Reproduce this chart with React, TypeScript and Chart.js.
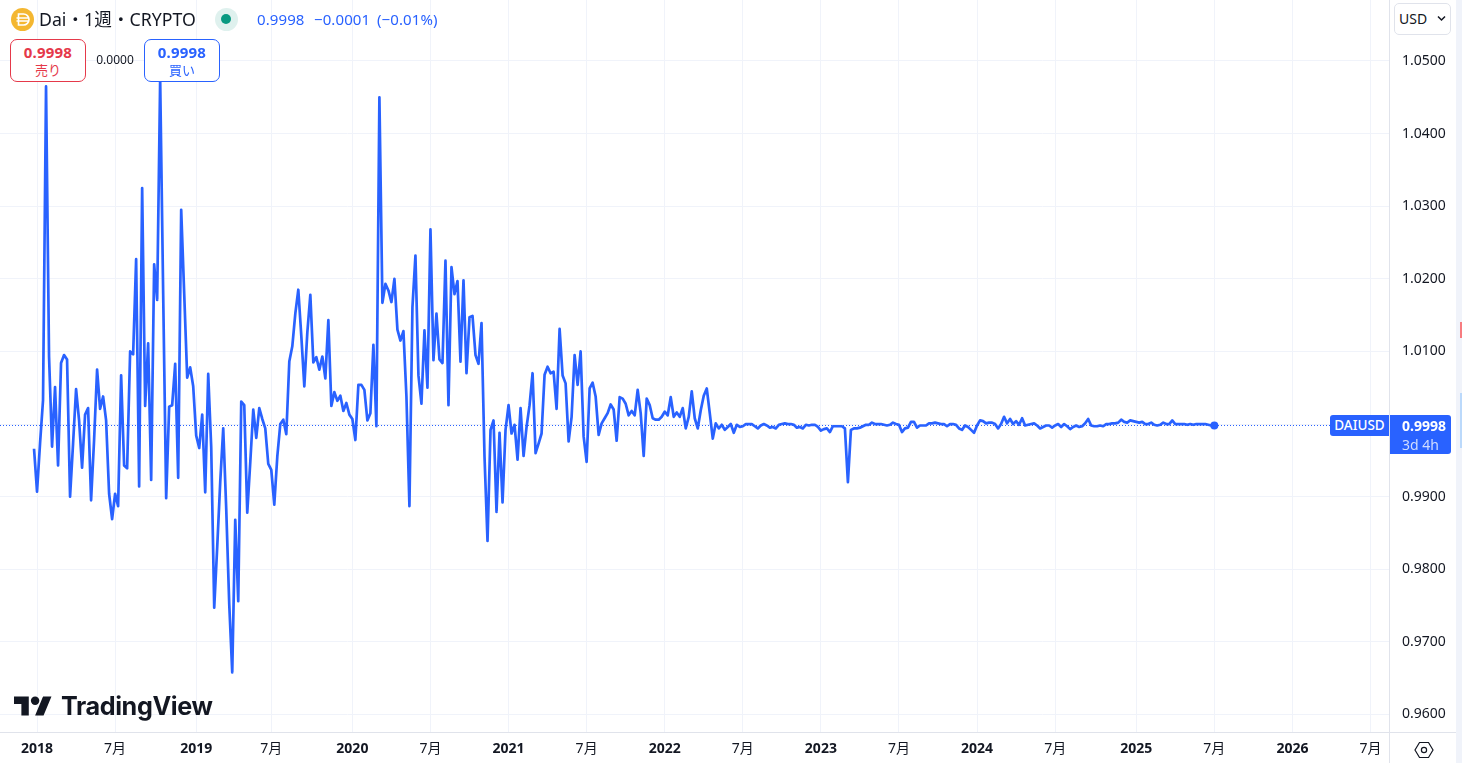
import React, { useEffect, useRef } from "react";
import { Chart, registerables } from "chart.js";

Chart.register(...registerables);

const BLUE = "#2962ff";
const GRID = "#f0f3fa";
const EDGE = "#e0e3eb";
const INK = "#131722";
const FONT = '"Noto Sans", Roboto, sans-serif';

const pricesA = [
  0.9966, 0.9907, 0.9973, 1.0033, 1.0465, 1.0093, 0.9969, 1.0051, 0.9943, 1.0084,
  1.0095, 1.0089, 0.99, 0.9973, 1.0048, 1.0005, 0.994, 1.0013, 1.0022, 0.9895,
  0.9978, 1.0075, 1.0021, 1.0038, 1.0005, 0.9904, 0.9869, 0.9904, 0.9887, 1.0067,
  0.9943, 0.9939, 1.01, 1.0096, 1.0227, 0.9914, 1.0325, 1.0025, 1.0111, 0.9923,
  1.022, 1.0171, 1.0475, 1.018, 0.9898, 1.0024, 1.0026, 1.0083, 0.9926, 1.0295,
  1.018, 1.0064, 1.0078, 1.0052, 0.9984, 0.9967, 1.0013, 0.9906, 1.0069, 0.9968,
];
const pricesB = [
  0.9747, 0.9831, 0.992, 0.9994, 0.9883, 0.9752, 0.9658, 0.9868, 0.9756, 1.0031,
  1.0026, 0.9878, 0.9947, 1.002, 0.9981, 1.0022, 1.0007, 0.9994, 0.9945, 0.9937,
  0.9889, 0.9955, 1.0, 1.0006, 0.9986, 1.0086, 1.0107, 1.0152, 1.0185, 1.0121,
  1.0052, 1.0126, 1.0178, 1.0085, 1.0092, 1.0075, 1.0093, 1.0063, 1.0143, 1.0025,
  1.0044, 1.0032, 1.0039, 1.0018, 1.0029, 1.0013, 1.0007, 0.9978, 1.0054, 1.0054,
  1.0047, 1.0005, 1.0015, 1.0109, 0.9997, 1.045, 1.0167, 1.0193, 1.0184, 1.0168,
];
const pricesC = [
  1.02, 1.013, 1.0115, 1.0128, 1.0038, 0.9887, 1.0161, 1.0232, 1.0067, 1.0028,
  1.0129, 1.005, 1.0268, 1.0088, 1.0152, 1.0089, 1.0084, 1.0225, 1.0026, 1.0216,
  1.0179, 1.0197, 1.0086, 1.0198, 1.007, 1.0147, 1.0149, 1.0095, 1.0083, 1.0139,
  0.9955, 0.9839, 0.9992, 1.0005, 0.9879, 0.9988, 0.9892, 0.9992, 1.0026, 0.9987,
  0.9999, 0.9951, 1.0022, 0.9956, 0.9996, 1.0026, 1.007, 0.996, 0.9973, 0.9987,
  1.0068, 1.0079, 1.007, 1.0072, 1.0021, 1.0131, 1.0067, 1.0056, 0.9976, 1.001,
];
const pricesD = [
  1.0095, 1.0054, 1.01, 0.9983, 0.9948, 1.0049, 1.0057, 1.0038, 0.9985, 1.0001,
  1.0008, 1.0015, 1.0027, 1.002, 0.9977, 1.0037, 1.0035, 1.0028, 1.0012, 1.0018,
  1.0012, 1.0047, 1.0015, 0.9956, 1.0035, 1.0026, 1.0008, 1.0006, 1.0006, 1.001,
  1.0017, 1.0012, 1.0037, 1.001, 1.0016, 1.001, 1.0022, 0.9994, 1.001, 1.0045,
  1.0008, 0.9994, 1.0019, 1.0039, 1.0049, 1.0015, 0.998, 1.0001, 0.9994, 0.9999,
  0.9992, 0.9996, 1.0, 0.9988, 0.9999, 0.9996, 0.9997, 1.0, 1.0, 1.0,
];
const pricesE = [
  0.9997, 0.9994, 0.9998, 1.0, 0.9998, 0.9995, 0.9996, 0.9994, 0.9999, 1.0,
  1.0001, 1.0, 1.0, 0.9999, 0.9995, 0.9996, 0.9994, 0.9999, 0.9998, 0.9999,
  0.9999, 0.9996, 0.9991, 0.9993, 0.9994, 0.9989, 0.9997, 0.9997, 0.9997, 0.9997,
  0.9994, 0.992, 0.9992, 0.9994, 0.9994, 0.9995, 0.9997, 0.9999, 0.9999, 1.0002,
  1.0, 1.0, 1.0, 0.9999, 0.9998, 0.9999, 1.0002, 1.0, 0.9999, 0.9989,
  0.9994, 0.9995, 1.0003, 1.0003, 0.9995, 0.9998, 0.9998, 0.9998, 1.0001, 1.0001,
  1.0002, 1.0001, 1.0, 1.0, 0.9997, 1.0, 1.0, 0.9999, 0.9994,
];
const pricesF = [
  0.9992, 0.9998, 0.9996, 0.9992, 0.9988, 0.9998, 1.0005, 1.0004, 1.0001, 1.0002,
  1.0002, 1.0, 0.9994, 1.0, 1.001, 1.0001, 1.0007, 1.0, 1.0004, 0.9999,
  1.0008, 0.9998, 0.9999, 1.0, 1.0001, 0.9998, 0.9994, 0.9996, 0.9998, 0.9998,
  0.9995, 0.9998, 1.0, 0.9996, 1.0, 0.9997, 0.9993, 0.9996, 0.9998, 0.9996,
  0.9997, 1.0001, 1.0007, 0.9998, 0.9997, 0.9997, 0.9998, 0.9997, 1.0, 1.0,
  1.0001, 1.0001, 1.0002, 1.0006, 1.0003, 1.0002, 1.0005, 1.0004, 1.0003, 1.0002,
  1.0003, 1.0, 1.0, 1.0002, 0.9999, 0.9998, 0.9999, 1.0002, 1.0, 1.0,
  1.0005, 1.0, 1.0, 1.0, 1.0, 0.9999, 1.0, 0.9999, 1.0, 1.0,
  1.0, 1.0, 0.9999, 0.9998, 0.9998,
];
const weeklyPrices = [...pricesA, ...pricesB, ...pricesC, ...pricesD, ...pricesE, ...pricesF];

const lastPrice = 0.9998;
const priceTicks = [0.96, 0.97, 0.98, 0.99, 1.0, 1.01, 1.02, 1.03, 1.04, 1.05];
const timeTickWeeks = [1, 27, 54, 79, 106, 132, 158, 184, 210, 236, 262, 288, 314, 340, 367, 393, 419, 445];
const timeTickLabels = ["2018", "7月", "2019", "7月", "2020", "7月", "2021", "7月", "2022", "7月", "2023", "7月", "2024", "7月", "2025", "7月", "2026", "7月"];

const Box = ({ s, children }: { s: React.CSSProperties; children?: React.ReactNode }) => (
  <div style={{ position: "absolute", boxSizing: "border-box", ...s }}>{children}</div>
);

const TradeBtn = ({ left, color, price, label }: { left: number; color: string; price: string; label: string }) => (
  <Box s={{ left, top: 39, width: 76, height: 43, border: `1px solid ${color}`, borderRadius: 7, background: "#fff", color, textAlign: "center" }}>
    <div style={{ fontSize: 15, fontWeight: 700, lineHeight: "16px", marginTop: 4, letterSpacing: 0.2 }}>{price}</div>
    <div style={{ fontSize: 13, lineHeight: "16px", marginTop: 2, fontFamily: `"Noto Sans CJK JP", ${FONT}` }}>{label}</div>
  </Box>
);

const zeroPad = (s: any) => {
  s.paddingLeft = 0;
  s.paddingRight = 0;
  s.paddingTop = 0;
  s.paddingBottom = 0;
};

export default function App() {
  const ref = useRef<HTMLCanvasElement>(null);

  useEffect(() => {
    const xMin = -11.33;
    const xMax = 451.5;
    const last = weeklyPrices.length - 1;
    const chart = new Chart(ref.current!, {
      type: "line",
      data: {
        datasets: [
          {
            data: weeklyPrices.map((y, x) => ({ x, y })),
            borderColor: BLUE,
            backgroundColor: BLUE,
            borderWidth: 2.7,
            borderJoinStyle: "round",
            tension: 0,
            pointBorderWidth: 0,
            pointRadius: weeklyPrices.map((_, i) => (i === last ? 4 : 0)),
          },
          {
            data: [
              { x: xMin, y: lastPrice },
              { x: xMax, y: lastPrice },
            ],
            borderColor: BLUE,
            borderWidth: 1,
            borderDash: [1, 2],
            pointRadius: 0,
          },
        ],
      },
      options: {
        animation: false,
        responsive: false,
        devicePixelRatio: 1,
        layout: { padding: 0, autoPadding: false },
        plugins: { legend: { display: false }, tooltip: { enabled: false } },
        scales: {
          x: {
            type: "linear",
            min: xMin,
            max: xMax,
            afterBuildTicks: (s: any) => {
              s.ticks = timeTickWeeks.map((value) => ({ value }));
            },
            afterFit: (s: any) => {
              s.height = 31;
              zeroPad(s);
            },
            grid: { color: GRID, drawTicks: false, lineWidth: 1 },
            border: { display: false },
            ticks: {
              autoSkip: false,
              maxRotation: 0,
              padding: 9,
              color: INK,
              font: (c: any) => {
                const isYear = /^\d{4}/.test(timeTickLabels[c.index] || "");
                return { family: `${FONT}, "Noto Sans CJK JP"`, size: 14, weight: isYear ? "bold" : "normal" };
              },
              callback: (_: any, i: number) => timeTickLabels[i],
            },
          },
          y: {
            type: "linear",
            position: "right",
            min: 0.95759,
            max: 1.0584,
            afterBuildTicks: (s: any) => {
              s.ticks = priceTicks.map((value) => ({ value }));
            },
            afterFit: (s: any) => {
              s.width = 72;
              zeroPad(s);
            },
            grid: { color: GRID, drawTicks: false, lineWidth: 1 },
            border: { display: false },
            ticks: {
              autoSkip: false,
              padding: 12,
              color: INK,
              font: { family: FONT, size: 14 },
              callback: (v: any) => Number(v).toFixed(4),
            },
          },
        },
      },
    } as any);
    return () => chart.destroy();
  }, []);

  return (
    <div style={{ position: "fixed", left: 0, top: 0, width: 1462, height: 763, overflow: "hidden", background: "#fff", fontFamily: FONT, color: INK }}>
      <canvas ref={ref} width={1462} height={763} style={{ position: "absolute", left: 0, top: 0, width: 1462, height: 763 }} />

      {/* axis frame and right rail */}
      <Box s={{ left: 1389, top: 0, width: 1, height: 763, background: EDGE }} />
      <Box s={{ left: 0, top: 732, width: 1456, height: 1, background: EDGE }} />
      <Box s={{ left: 1456, top: 0, width: 6, height: 763, background: "#f0f3fa" }} />
      <Box s={{ left: 1460, top: 322, width: 2, height: 16, background: "#f77c80" }} />
      <Box s={{ left: 1460, top: 393, width: 2, height: 55, background: "#bbd9fb" }} />

      {/* header */}
      <Box s={{ left: 11, top: 8, width: 23, height: 23, borderRadius: "50%", background: "#f4b731" }}>
        <svg width="23" height="23" viewBox="0 0 23 23">
          <path d="M7.5 6h5a5.5 5.5 0 0 1 0 11h-5z M5.5 10h12 M5.5 13h12" fill="none" stroke="#fff" strokeWidth="1.6" />
        </svg>
      </Box>
      <Box s={{ left: 39, top: 7, fontSize: 17.7, lineHeight: "25px", whiteSpace: "nowrap", fontFamily: `${FONT}, "Noto Sans CJK JP"` }}>Dai・1週・CRYPTO</Box>
      <Box s={{ left: 215, top: 8, width: 23, height: 23, borderRadius: "50%", background: "#dff1ee" }} />
      <Box s={{ left: 221, top: 14, width: 10, height: 10, borderRadius: "50%", background: "#089981" }} />
      <Box s={{ left: 257, top: 9, fontSize: 15, lineHeight: "20px", color: BLUE, whiteSpace: "pre", letterSpacing: 0.1 }}>0.9998</Box>
      <Box s={{ left: 314, top: 9, fontSize: 15, lineHeight: "20px", color: BLUE, whiteSpace: "pre", letterSpacing: 0.1 }}>−0.0001</Box>
      <Box s={{ left: 377, top: 9, fontSize: 15, lineHeight: "20px", color: BLUE, whiteSpace: "pre", letterSpacing: 0.1 }}>(−0.01%)</Box>

      <TradeBtn left={10} color="#e5394a" price="0.9998" label="売り" />
      <Box s={{ left: 90, top: 52, width: 50, textAlign: "center", fontSize: 12, lineHeight: "15px" }}>0.0000</Box>
      <TradeBtn left={144} color="#2962ff" price="0.9998" label="買い" />

      {/* currency selector */}
      <Box s={{ left: 1394, top: 3, width: 57, height: 32, border: `1px solid ${EDGE}`, borderRadius: 5, background: "#fff" }}>
        <div style={{ position: "absolute", left: 4, top: 6, fontSize: 14, lineHeight: "18px" }}>USD</div>
        <svg style={{ position: "absolute", left: 42, top: 11 }} width="9" height="7" viewBox="0 0 9 7">
          <path d="M1 1.5 4.5 5 8 1.5" fill="none" stroke={INK} strokeWidth="1.5" />
        </svg>
      </Box>

      {/* last price labels */}
      <Box s={{ left: 1330, top: 415, width: 59, height: 21, background: BLUE, color: "#fff", borderRadius: "3px 0 0 3px", fontSize: 13.5, lineHeight: "21px", textAlign: "center", fontWeight: 500 }}>DAIUSD</Box>
      <Box s={{ left: 1390, top: 415, width: 61, height: 39, background: BLUE, color: "#fff", borderRadius: "0 3px 3px 0", fontSize: 14, lineHeight: "19px", paddingLeft: 12, paddingTop: 1 }}>
        <div style={{ fontWeight: 700 }}>0.9998</div>
        <div style={{ color: "#cfdcff" }}>3d 4h</div>
      </Box>

      {/* watermark */}
      <svg style={{ position: "absolute", left: 14, top: 689 }} width="38" height="30" viewBox="0 0 36 28">
        <path d="M14 25H7V14H0V7h14v18zM28 25h-8l7.5-18h8L28 25z" fill="#131722" />
        <circle cx="20" cy="11" r="4" fill="#131722" />
      </svg>
      <Box s={{ left: 61, top: 688, fontSize: 25.2, lineHeight: "36px", fontWeight: 700, letterSpacing: -0.4, fontFamily: 'Inter, "Noto Sans", sans-serif', color: "#131722" }}>TradingView</Box>

      {/* settings hexagon */}
      <svg style={{ position: "absolute", left: 1414, top: 741 }} width="20" height="18" viewBox="0 0 20 18">
        <path d="M5.5 1.5h9L19 9l-4.5 7.5h-9L1 9z" fill="none" stroke={INK} strokeWidth="1.2" />
        <circle cx="10" cy="9" r="2.6" fill="none" stroke={INK} strokeWidth="1.2" />
      </svg>
    </div>
  );
}
